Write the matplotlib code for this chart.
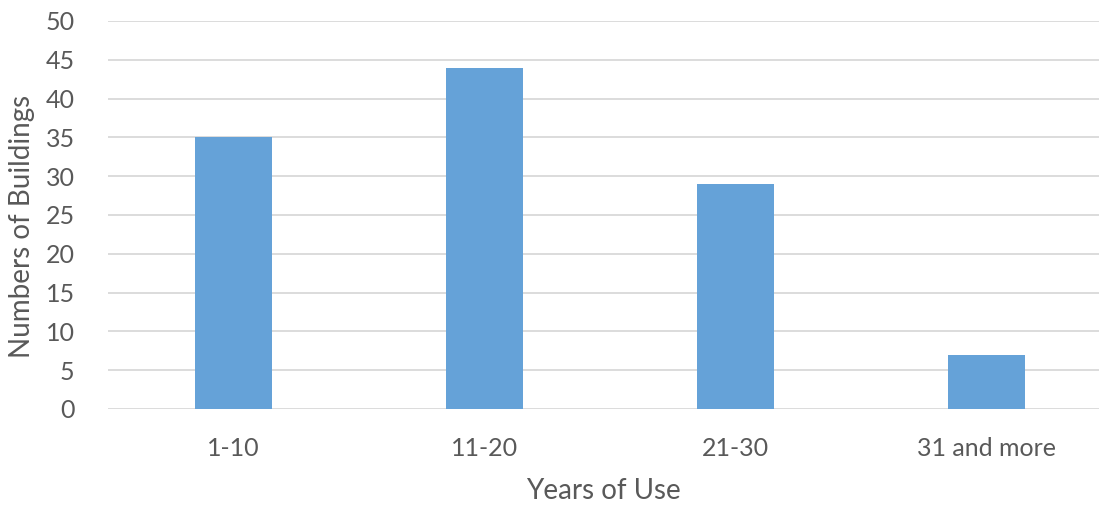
import numpy as np
import matplotlib.pyplot as plt

categories = ["1-10", "11-20", "21-30", "31 and more"]
buildings = [35, 44, 29, 7]
yticks = [0, 5, 10, 15, 20, 25, 30, 35, 40, 45, 50]

plt.rcParams['font.family'] = ['Lato', 'DejaVu Sans']
grey = "#595959"

fig = plt.figure(figsize=(10.99, 5.05), dpi=100)
ax = fig.add_axes([108 / 1099, 96 / 505, 991 / 1099, 388 / 505])

x = np.arange(len(categories))
ax.bar(x, buildings, width=0.31, color="#65a2d8", zorder=3)

ax.set_xlim(-0.5, 3.448)
ax.set_ylim(0, 50)
ax.set_yticks(yticks)
ax.set_xticks(x)
ax.set_xticklabels(categories)
ax.yaxis.grid(True, color="#d9d9d9", linewidth=1.3, zorder=0)
for s in ax.spines.values():
    s.set_visible(False)
ax.tick_params(axis="both", length=0, labelsize=18, labelcolor=grey)
ax.tick_params(axis="y", pad=24)
ax.tick_params(axis="x", pad=20)

ax.set_xlabel("Years of Use", fontsize=20, color=grey, labelpad=13)
ax.set_ylabel("Numbers of Buildings", fontsize=20, color=grey, labelpad=4)
ax.yaxis.set_label_coords(-0.074, 0.47)

fig.savefig("out.png", dpi=100)
